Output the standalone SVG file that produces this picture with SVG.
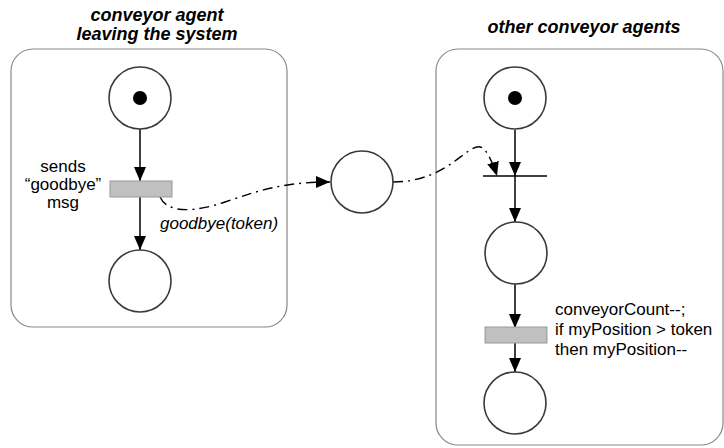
<svg xmlns="http://www.w3.org/2000/svg" width="724" height="448" viewBox="0 0 724 448">
<defs>
<style>
.box{fill:#fff;stroke:#888;stroke-width:1.2}
.place{fill:#fff;stroke:#3a3a3a;stroke-width:1.6}
.trans{fill:#c0c0c0;stroke:#999;stroke-width:1}
.arc{fill:none;stroke:#000;stroke-width:1.5}
.dd{fill:none;stroke:#000;stroke-width:1.4;stroke-dasharray:10 5 2 5}
.title{font-family:"Liberation Sans",Arial,sans-serif;font-weight:bold;font-style:italic;font-size:18px;fill:#000;text-anchor:middle}
.lbl{font-family:"Liberation Sans",Arial,sans-serif;font-size:17px;fill:#000}
</style>
<marker id="ah" markerUnits="userSpaceOnUse" markerWidth="14" markerHeight="12" refX="14" refY="6" orient="auto">
<path d="M0,0 L14,6 L0,12 z" fill="#000"/>
</marker>
</defs>
<g id="box-left"><rect class="box" x="11" y="49" width="276" height="278" rx="22"/></g>
<g id="box-right"><rect class="box" x="436" y="49" width="287" height="396" rx="22"/></g>
<g id="titles">
<text class="title" x="157" y="21" font-size="19.5">conveyor agent</text>
<text class="title" x="157" y="40" font-size="19.5">leaving the system</text>
<text class="title" x="584" y="33">other conveyor agents</text>
</g>
<g id="connectors">
<line class="arc" x1="140" y1="129" x2="140" y2="181" marker-end="url(#ah)"/>
<line class="arc" x1="140" y1="197" x2="140" y2="250" marker-end="url(#ah)"/>
<line class="arc" x1="515" y1="130" x2="515" y2="176" marker-end="url(#ah)"/>
<line class="arc" x1="515" y1="176" x2="515" y2="222" marker-end="url(#ah)"/>
<line class="arc" x1="515" y1="284" x2="515" y2="328" marker-end="url(#ah)"/>
<line class="arc" x1="515" y1="343" x2="515" y2="372" marker-end="url(#ah)"/>
<path class="dd" d="M160,197 C168,214 195,212 225,202 C260,190 285,182 330,182" marker-end="url(#ah)"/>
<path class="dd" d="M393,182 C420,182 440,172 455,161 C470,150 478,142 485,150 C490,157 494,166 497,176" marker-end="url(#ah)"/>
</g>
<g id="p-left-top"><circle class="place" cx="140" cy="98" r="31"/><circle cx="140" cy="98" r="7" fill="#000"/></g>
<g id="t-left"><rect class="trans" x="110" y="181" width="62" height="16"/>
<text class="lbl" x="63" y="172" text-anchor="middle">sends</text>
<text class="lbl" x="63" y="190" text-anchor="middle">“goodbye”</text>
<text class="lbl" x="63" y="208" text-anchor="middle">msg</text>
</g>
<g id="p-left-bottom"><circle class="place" cx="140" cy="281" r="31"/></g>
<g id="lbl-goodbye"><text class="lbl" x="160" y="229" font-style="italic">goodbye(token)</text></g>
<g id="p-mid"><circle class="place" cx="362" cy="182" r="31"/></g>
<g id="p-right-top"><circle class="place" cx="515" cy="98" r="31"/><circle cx="515" cy="98" r="7" fill="#000"/></g>
<g id="t-right-bar"><line x1="483" y1="176" x2="547" y2="176" stroke="#000" stroke-width="1.6"/></g>
<g id="p-right-mid"><circle class="place" cx="516" cy="253" r="31"/></g>
<g id="t-right"><rect class="trans" x="485" y="327" width="62" height="16"/>
<text class="lbl" x="555" y="315" font-size="18.5">conveyorCount--;</text>
<text class="lbl" x="555" y="335" font-size="18.5">if myPosition &gt; token</text>
<text class="lbl" x="555" y="355" font-size="18.5">then myPosition--</text>
</g>
<g id="p-right-bottom"><circle class="place" cx="515" cy="403" r="31"/></g>
</svg>
